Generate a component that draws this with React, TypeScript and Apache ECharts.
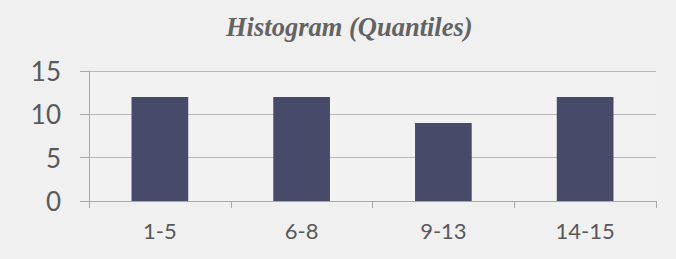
import React, { useEffect, useRef } from "react";
import * as echarts from "echarts";

const categories = ["1-5", "6-8", "9-13", "14-15"];
const counts = [12, 12, 9, 12];
const yTicks = { min: 0, max: 15, interval: 5 };
const titleText = "Histogram (Quantiles)";

export default function App() {
  const ref = useRef<HTMLDivElement>(null);
  useEffect(() => {
    if (!ref.current) return;
    const chart = echarts.init(ref.current, null, { renderer: "svg" });
    chart.setOption({
      animation: false,
      backgroundColor: "#f0f0f0",
      title: {
        text: titleText,
        left: 221,
        top: 8,
        textStyle: {
          fontFamily: "Liberation Serif",
          fontStyle: "italic",
          fontWeight: "bold",
          fontSize: 26.5,
          color: "#636363",
        },
      },
      grid: { left: 89, right: 20, top: 71, bottom: 58, show: true, backgroundColor: "#f2f2f2", borderWidth: 0 },
      xAxis: {
        type: "category",
        data: categories,
        axisLine: { show: true, lineStyle: { color: "#a8a8a8", width: 1 } },
        axisTick: { show: true, length: 7, alignWithLabel: false, lineStyle: { color: "#a8a8a8" } },
        axisLabel: { fontFamily: "Lato", fontSize: 22, color: "#595959", margin: 18 },
      },
      yAxis: {
        type: "value",
        min: yTicks.min,
        max: yTicks.max,
        interval: yTicks.interval,
        axisLine: { show: true, lineStyle: { color: "#a8a8a8", width: 1 } },
        axisTick: { show: true, length: 9, lineStyle: { color: "#a8a8a8" } },
        splitLine: { show: true, lineStyle: { color: "#b8b8b8", width: 1 } },
        axisLabel: { fontFamily: "Lato", fontSize: 26, color: "#595959", margin: 28 },
      },
      series: [
        {
          type: "bar",
          data: counts,
          barWidth: "40%",
          itemStyle: { color: "#474a69" },
        },
      ],
    });
    return () => chart.dispose();
  }, []);
  return <div ref={ref} style={{ width: 676, height: 259, position: "absolute", left: 0, top: 0 }} />;
}
